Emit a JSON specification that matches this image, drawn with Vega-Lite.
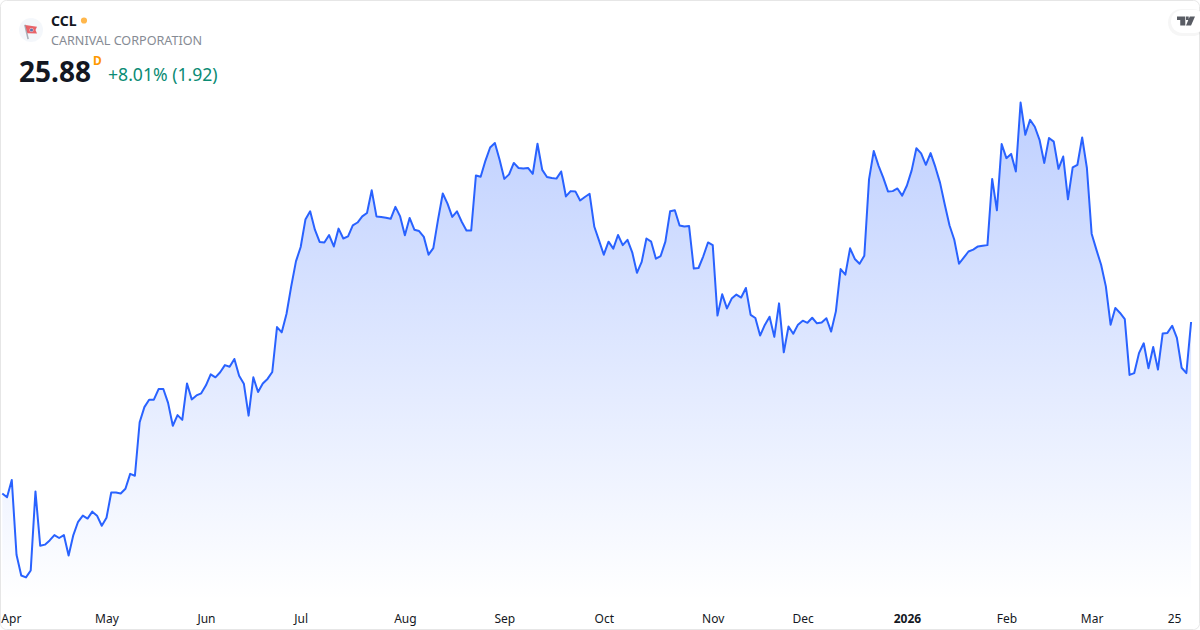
{"$schema":"https://vega.github.io/schema/vega-lite/v6.json","width":1200,"height":600,"autosize":{"type":"none"},"padding":{"left":0,"top":0,"right":0,"bottom":30},"background":"#ffffff","view":{"stroke":null},"config":{"font":"Noto Sans"},
"datasets":{"prices":[{"i":0,"close":19.43},{"i":1,"close":19.29},{"i":2,"close":19.94},{"i":3,"close":17.13},{"i":4,"close":16.35},{"i":5,"close":16.28},{"i":6,"close":16.54},{"i":7,"close":19.51},{"i":8,"close":17.47},{"i":9,"close":17.51},{"i":10,"close":17.67},{"i":11,"close":17.87},{"i":12,"close":17.76},{"i":13,"close":17.87},{"i":14,"close":17.10},{"i":15,"close":17.87},{"i":16,"close":18.37},{"i":17,"close":18.60},{"i":18,"close":18.49},{"i":19,"close":18.75},{"i":20,"close":18.60},{"i":21,"close":18.22},{"i":22,"close":18.52},{"i":23,"close":19.47},{"i":24,"close":19.47},{"i":25,"close":19.43},{"i":26,"close":19.61},{"i":27,"close":20.17},{"i":28,"close":20.10},{"i":29,"close":22.11},{"i":30,"close":22.68},{"i":31,"close":22.96},{"i":32,"close":22.96},{"i":33,"close":23.36},{"i":34,"close":23.36},{"i":35,"close":22.84},{"i":36,"close":21.98},{"i":37,"close":22.38},{"i":38,"close":22.20},{"i":39,"close":23.57},{"i":40,"close":22.97},{"i":41,"close":23.12},{"i":42,"close":23.20},{"i":43,"close":23.50},{"i":44,"close":23.91},{"i":45,"close":23.80},{"i":46,"close":23.99},{"i":47,"close":24.26},{"i":48,"close":24.20},{"i":49,"close":24.49},{"i":50,"close":23.86},{"i":51,"close":23.56},{"i":52,"close":22.36},{"i":53,"close":23.80},{"i":54,"close":23.25},{"i":55,"close":23.57},{"i":56,"close":23.74},{"i":57,"close":24.00},{"i":58,"close":25.69},{"i":59,"close":25.49},{"i":60,"close":26.18},{"i":61,"close":27.22},{"i":62,"close":28.16},{"i":63,"close":28.70},{"i":64,"close":29.73},{"i":65,"close":30.04},{"i":66,"close":29.35},{"i":67,"close":28.89},{"i":68,"close":28.87},{"i":69,"close":29.15},{"i":70,"close":28.72},{"i":71,"close":29.39},{"i":72,"close":29.02},{"i":73,"close":29.10},{"i":74,"close":29.51},{"i":75,"close":29.62},{"i":76,"close":29.85},{"i":77,"close":29.98},{"i":78,"close":30.83},{"i":79,"close":29.85},{"i":80,"close":29.83},{"i":81,"close":29.80},{"i":82,"close":29.76},{"i":83,"close":30.21},{"i":84,"close":29.85},{"i":85,"close":29.14},{"i":86,"close":29.79},{"i":87,"close":29.35},{"i":88,"close":29.30},{"i":89,"close":29.08},{"i":90,"close":28.41},{"i":91,"close":28.66},{"i":92,"close":29.73},{"i":93,"close":30.71},{"i":94,"close":30.33},{"i":95,"close":29.83},{"i":96,"close":30.04},{"i":97,"close":29.65},{"i":98,"close":29.32},{"i":99,"close":29.32},{"i":100,"close":31.39},{"i":101,"close":31.34},{"i":102,"close":31.94},{"i":103,"close":32.44},{"i":104,"close":32.61},{"i":105,"close":31.98},{"i":106,"close":31.26},{"i":107,"close":31.43},{"i":108,"close":31.86},{"i":109,"close":31.67},{"i":110,"close":31.65},{"i":111,"close":31.67},{"i":112,"close":31.45},{"i":113,"close":32.58},{"i":114,"close":31.60},{"i":115,"close":31.33},{"i":116,"close":31.29},{"i":117,"close":31.27},{"i":118,"close":31.54},{"i":119,"close":30.60},{"i":120,"close":30.80},{"i":121,"close":30.79},{"i":122,"close":30.45},{"i":123,"close":30.58},{"i":124,"close":30.70},{"i":125,"close":29.46},{"i":126,"close":28.94},{"i":127,"close":28.41},{"i":128,"close":28.90},{"i":129,"close":28.64},{"i":130,"close":29.15},{"i":131,"close":28.77},{"i":132,"close":28.97},{"i":133,"close":28.50},{"i":134,"close":27.73},{"i":135,"close":28.14},{"i":136,"close":29.02},{"i":137,"close":28.90},{"i":138,"close":28.26},{"i":139,"close":28.36},{"i":140,"close":28.90},{"i":141,"close":30.04},{"i":142,"close":30.08},{"i":143,"close":29.51},{"i":144,"close":29.47},{"i":145,"close":29.49},{"i":146,"close":27.89},{"i":147,"close":27.91},{"i":148,"close":28.35},{"i":149,"close":28.87},{"i":150,"close":28.77},{"i":151,"close":26.12},{"i":152,"close":26.92},{"i":153,"close":26.39},{"i":154,"close":26.76},{"i":155,"close":26.91},{"i":156,"close":26.80},{"i":157,"close":27.16},{"i":158,"close":26.15},{"i":159,"close":26.03},{"i":160,"close":25.37},{"i":161,"close":25.77},{"i":162,"close":26.08},{"i":163,"close":25.32},{"i":164,"close":26.58},{"i":165,"close":24.74},{"i":166,"close":25.71},{"i":167,"close":25.44},{"i":168,"close":25.78},{"i":169,"close":25.93},{"i":170,"close":25.85},{"i":171,"close":26.04},{"i":172,"close":25.83},{"i":173,"close":25.86},{"i":174,"close":26.02},{"i":175,"close":25.52},{"i":176,"close":26.28},{"i":177,"close":27.87},{"i":178,"close":27.66},{"i":179,"close":28.65},{"i":180,"close":28.25},{"i":181,"close":28.07},{"i":182,"close":28.37},{"i":183,"close":31.24},{"i":184,"close":32.31},{"i":185,"close":31.76},{"i":186,"close":31.31},{"i":187,"close":30.79},{"i":188,"close":30.80},{"i":189,"close":30.90},{"i":190,"close":30.63},{"i":191,"close":31.01},{"i":192,"close":31.58},{"i":193,"close":32.41},{"i":194,"close":32.22},{"i":195,"close":31.79},{"i":196,"close":32.23},{"i":197,"close":31.71},{"i":198,"close":31.11},{"i":199,"close":30.29},{"i":200,"close":29.51},{"i":201,"close":28.97},{"i":202,"close":28.07},{"i":203,"close":28.30},{"i":204,"close":28.53},{"i":205,"close":28.60},{"i":206,"close":28.72},{"i":207,"close":28.75},{"i":208,"close":28.77},{"i":209,"close":31.26},{"i":210,"close":30.08},{"i":211,"close":32.57},{"i":212,"close":32.04},{"i":213,"close":32.20},{"i":214,"close":31.54},{"i":215,"close":34.13},{"i":216,"close":32.92},{"i":217,"close":33.48},{"i":218,"close":33.22},{"i":219,"close":32.73},{"i":220,"close":31.86},{"i":221,"close":32.80},{"i":222,"close":32.66},{"i":223,"close":31.64},{"i":224,"close":32.10},{"i":225,"close":30.49},{"i":226,"close":31.69},{"i":227,"close":31.79},{"i":228,"close":32.82},{"i":229,"close":31.67},{"i":230,"close":29.20},{"i":231,"close":28.60},{"i":232,"close":28.03},{"i":233,"close":27.22},{"i":234,"close":25.78},{"i":235,"close":26.41},{"i":236,"close":26.22},{"i":237,"close":25.99},{"i":238,"close":23.89},{"i":239,"close":23.96},{"i":240,"close":24.71},{"i":241,"close":25.08},{"i":242,"close":24.14},{"i":243,"close":24.94},{"i":244,"close":24.09},{"i":245,"close":25.45},{"i":246,"close":25.47},{"i":247,"close":25.74},{"i":248,"close":25.28},{"i":249,"close":24.16},{"i":250,"close":23.96},{"i":251,"close":25.88}]},
"layer":[
{"data":{"name":"prices"},"mark":{"type":"area","interpolate":"linear","line":false,"fill":{"gradient":"linear","x1":0,"y1":0,"x2":0,"y2":1,"stops":[{"offset":0,"color":"rgba(41,98,255,0.3)"},{"offset":1,"color":"rgba(41,98,255,0.0)"}]}},
"encoding":{"x":{"field":"i","type":"quantitative","scale":{"domain":[-0.486,252.88],"nice":false,"zero":false},"axis":{"title":null,"grid":false,"domain":false,"ticks":false,"labelPadding":13,"labelFontSize":12,"labelColor":"#131722","labelFont":"Noto Sans","labelOverlap":false,"labelFlush":false,"values":[1.8,22,43,63,85,106,127,150,169,191,212,230,247.4],"labelExpr":"{'1.8':'Apr','22':'May','43':'Jun','63':'Jul','85':'Aug','106':'Sep','127':'Oct','150':'Nov','169':'Dec','191':'2026','212':'Feb','230':'Mar','247.4':'25'}[datum.value]","labelFontWeight":{"condition":{"test":"datum.value==191","value":"bold"},"value":"normal"}}},"y":{"field":"close","type":"quantitative","stack":null,"scale":{"domain":[15.429,37.985],"nice":false,"zero":false},"axis":null}}},
{"data":{"name":"prices"},"mark":{"type":"line","interpolate":"linear","stroke":"#2962ff","strokeWidth":2,"strokeJoin":"round"},"encoding":{"x":{"field":"i","type":"quantitative"},"y":{"field":"close","type":"quantitative"}}},
{"data":{"values":[{"a":1}]},"mark":{"type":"rect","x":0.5,"x2":1199.5,"y":0.5,"y2":629.5,"cornerRadius":6,"fill":null,"stroke":"#e6e6e6","strokeWidth":1,"clip":false},"encoding":{}},
{"data":{"values":[{"a":1}]},"mark":{"type":"rect","x":1168,"x2":1206,"y":9,"y2":36,"cornerRadius":13,"fill":"rgba(0,0,0,0.035)","stroke":null},"encoding":{}},
{"data":{"values":[{"a":1}]},"mark":{"type":"rect","x":1171,"x2":1206,"y":10,"y2":33,"cornerRadius":12,"fill":"#ffffff","stroke":null},"encoding":{}},
{"data":{"values":[{"a":1}]},"mark":{"type":"point","x":1186,"y":21,"size":324,"filled":true,"fill":"#131722","stroke":null,"shape":"M-1 -0.5L-0.08 -0.5L-0.08 0.5L-0.64 0.5L-0.64 -0.1L-1 -0.1ZM0 -0.5L0.3 -0.5L0.3 -0.1L0 -0.1ZM0.42 -0.5L1 -0.5L0.56 0.5L0 0.5Z"},"encoding":{}},
{"data":{"values":[{"a":1}]},"mark":{"type":"point","x":31,"y":30,"size":576,"shape":"circle","filled":true,"fill":"#f0f3fa","stroke":null},"encoding":{}},
{"data":{"values":[{"a":1}]},"mark":{"type":"point","x":31,"y":30,"size":144,"filled":true,"fill":"#8a8f98","stroke":null,"shape":"M-1.15 -0.85L-0.9 -0.9L-0.35 1.5L-0.6 1.55Z"},"encoding":{}},
{"data":{"values":[{"a":1}]},"mark":{"type":"point","x":31,"y":30,"size":144,"filled":true,"fill":"#e3242b","stroke":null,"shape":"M-0.95 -0.85L1 -0.55L0.75 0L1 0.6L-0.6 0.55Z"},"encoding":{}},
{"data":{"values":[{"a":1}]},"mark":{"type":"point","x":31.5,"y":30,"size":18,"shape":"circle","filled":true,"fill":"#ffffff","stroke":null},"encoding":{}},
{"data":{"values":[{"a":1}]},"mark":{"type":"point","x":31.5,"y":30,"size":10,"shape":"circle","filled":true,"fill":"#1f4e9c","stroke":null},"encoding":{}},
{"data":{"values":[{"t":"CCL"}]},"mark":{"type":"text","x":51,"y":21.5,"align":"left","baseline":"middle","font":"Noto Sans","fontSize":14,"fontWeight":"bold","fill":"#131722"},"encoding":{"text":{"field":"t"}}},
{"data":{"values":[{"a":1}]},"mark":{"type":"point","x":84,"y":20.5,"size":38,"shape":"circle","filled":true,"fill":"#ff9800","stroke":null},"encoding":{}},
{"data":{"values":[{"t":"CARNIVAL CORPORATION"}]},"mark":{"type":"text","x":51,"y":41,"align":"left","baseline":"middle","font":"Noto Sans","fontSize":12.6,"fill":"#868b94"},"encoding":{"text":{"field":"t"}}},
{"data":{"values":[{"t":"25.88"}]},"mark":{"type":"text","x":19,"y":73.5,"align":"left","baseline":"middle","font":"Noto Sans","fontSize":28,"fontWeight":"bold","fill":"#131722"},"encoding":{"text":{"field":"t"}}},
{"data":{"values":[{"t":"D"}]},"mark":{"type":"text","x":93,"y":61,"align":"left","baseline":"middle","font":"Noto Sans","fontSize":12,"fontWeight":"bold","fill":"#ff9800"},"encoding":{"text":{"field":"t"}}},
{"data":{"values":[{"t":"+8.01% (1.92)"}]},"mark":{"type":"text","x":108,"y":75.5,"align":"left","baseline":"middle","font":"Noto Sans","fontSize":17.6,"fill":"#0b8b74"},"encoding":{"text":{"field":"t"}}}
]}
